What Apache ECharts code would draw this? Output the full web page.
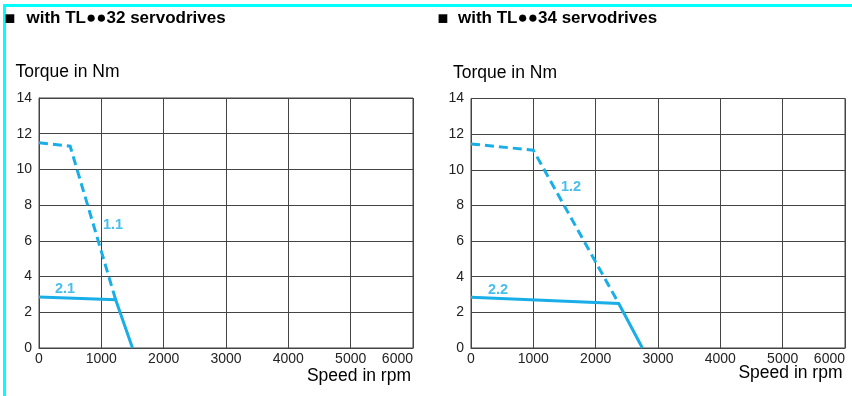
<!DOCTYPE html>
<html>
<head>
<meta charset="utf-8">
<script src="https://cdn.jsdelivr.net/npm/echarts@6/dist/echarts.min.js"></script>
<style>
html,body{margin:0;padding:0;background:#fff;}
#c{width:852px;height:396px;}
</style>
</head>
<body>
<div id="c"></div>
<script>
// ---- data ----
const titles = ['with TL\u25CF\u25CF32 servodrives', 'with TL\u25CF\u25CF34 servodrives'];
const yAxisTitle = 'Torque in Nm';
const xAxisTitle = 'Speed in rpm';
const speedMin = 0, speedMax = 6000, speedStep = 1000;
const torqueMin = 0, torqueMax = 14, torqueStep = 2;

// TL..32
const curve11 = [[0, 11.5], [500, 11.3], [1230, 2.7]];   // dashed (peak)
const curve21 = [[0, 2.86], [1230, 2.7], [1500, 0]];     // solid (continuous)
const labels32 = [{ name: '1.1', value: [1187, 6.9] }, { name: '2.1', value: [417, 3.31] }];

// TL..34
const curve12 = [[0, 11.45], [1000, 11.1], [2370, 2.5]]; // dashed (peak)
const curve22 = [[0, 2.85], [2370, 2.5], [2750, 0]];     // solid (continuous)
const labels34 = [{ name: '1.2', value: [1604, 9.05] }, { name: '2.2', value: [433, 3.28] }];

// ---- chart ----
const FONT = '"Liberation Sans", Arial, sans-serif';
const BLUE = '#1aaee8';
const GRIDC = '#444';

const chart = echarts.init(document.getElementById('c'), null, { renderer: 'canvas' });

function xAx(gi) {
  return {
    type: 'value', gridIndex: gi, min: speedMin, max: speedMax, interval: speedStep,
    axisLine: { show: true, lineStyle: { color: GRIDC, width: 1 } },
    axisTick: { show: false },
    splitLine: { show: true, lineStyle: { color: GRIDC, width: 1 } },
    axisLabel: { color: '#222', fontFamily: FONT, fontSize: 14, margin: 4, alignMaxLabel: 'right', showMaxLabel: true, showMinLabel: true, formatter: v => String(v) }
  };
}
function yAx(gi) {
  return {
    type: 'value', gridIndex: gi, min: torqueMin, max: torqueMax, interval: torqueStep,
    axisLine: { show: true, lineStyle: { color: GRIDC, width: 1 } },
    axisTick: { show: false },
    splitLine: { show: true, lineStyle: { color: GRIDC, width: 1 } },
    axisLabel: { color: '#222', fontFamily: FONT, fontSize: 14, margin: 7, formatter: v => String(v) }
  };
}
function lineSeries(gi, data, dashed) {
  return {
    type: 'line', xAxisIndex: gi, yAxisIndex: gi, data: data,
    symbol: 'none', silent: true, animation: false,
    lineStyle: { color: BLUE, width: 3, type: dashed ? [9, 5] : 'solid', cap: 'butt', join: 'miter' },
    z: 5
  };
}
function labelSeries(gi, data) {
  return {
    type: 'scatter', xAxisIndex: gi, yAxisIndex: gi, data: data,
    symbolSize: 0, silent: true, animation: false,
    label: { show: true, position: 'inside', formatter: p => p.name, color: BLUE, fontFamily: FONT, fontSize: 14.5, fontWeight: 'bold' },
    z: 6
  };
}

const textBase = { fontFamily: FONT, color: '#111' };

chart.setOption({
  animation: false,
  grid: [
    { left: 39, right: 439, top: 98, bottom: 48, show: true, borderColor: GRIDC, borderWidth: 1 },
    { left: 471, right: 7, top: 98.5, bottom: 48, show: true, borderColor: GRIDC, borderWidth: 1 }
  ],
  xAxis: [xAx(0), xAx(1)],
  yAxis: [yAx(0), yAx(1)],
  series: [
    lineSeries(0, curve11, true), lineSeries(0, curve21, false), labelSeries(0, labels32),
    lineSeries(1, curve12, true), lineSeries(1, curve22, false), labelSeries(1, labels34)
  ],
  graphic: [
    // cyan frame
    { type: 'rect', shape: { x: 3, y: 4, width: 849, height: 3 }, style: { fill: '#00ffff' }, silent: true },
    { type: 'rect', shape: { x: 3, y: 4, width: 3, height: 392 }, style: { fill: '#00ffff' }, silent: true },
    // section titles
    { type: 'text', x: 10, y: 19, style: Object.assign({ text: '\u25A0', fontSize: 18, verticalAlign: 'middle', align: 'center' }, textBase) },
    { type: 'text', x: 26.5, y: 18.5, style: Object.assign({ text: titles[0], fontSize: 17, fontWeight: 'bold', verticalAlign: 'middle', align: 'left' }, textBase) },
    { type: 'text', x: 443, y: 19, style: Object.assign({ text: '\u25A0', fontSize: 18, verticalAlign: 'middle', align: 'center' }, textBase) },
    { type: 'text', x: 458, y: 18.5, style: Object.assign({ text: titles[1], fontSize: 17, fontWeight: 'bold', verticalAlign: 'middle', align: 'left' }, textBase) },
    // axis titles
    { type: 'text', x: 15.5, y: 72, style: Object.assign({ text: yAxisTitle, fontSize: 17.5, verticalAlign: 'middle', align: 'left' }, textBase) },
    { type: 'text', x: 453, y: 73, style: Object.assign({ text: yAxisTitle, fontSize: 17.5, verticalAlign: 'middle', align: 'left' }, textBase) },
    { type: 'text', x: 411, y: 376, style: Object.assign({ text: xAxisTitle, fontSize: 17.5, verticalAlign: 'middle', align: 'right' }, textBase) },
    { type: 'text', x: 842.5, y: 373.5, style: Object.assign({ text: xAxisTitle, fontSize: 17.5, verticalAlign: 'middle', align: 'right' }, textBase) }
  ]
});
</script>
</body>
</html>
